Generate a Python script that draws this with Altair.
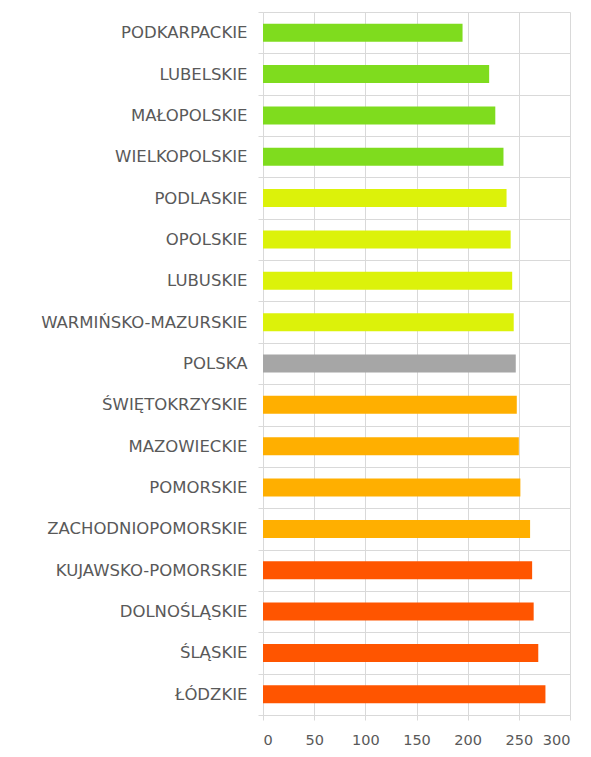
import altair as alt
import pandas as pd

regions = [
    "PODKARPACKIE", "LUBELSKIE", "MAŁOPOLSKIE", "WIELKOPOLSKIE",
    "PODLASKIE", "OPOLSKIE", "LUBUSKIE", "WARMIŃSKO-MAZURSKIE",
    "POLSKA",
    "ŚWIĘTOKRZYSKIE", "MAZOWIECKIE", "POMORSKIE", "ZACHODNIOPOMORSKIE",
    "KUJAWSKO-POMORSKIE", "DOLNOŚLĄSKIE", "ŚLĄSKIE", "ŁÓDZKIE",
]
values = [195, 221, 227, 235, 238, 242, 243.5, 245, 247, 248, 250, 251.5, 261, 263, 264.5, 269, 276]
groups = ["g1"] * 4 + ["g2"] * 4 + ["pl"] + ["g3"] * 4 + ["g4"] * 4

group_domain = ["g1", "g2", "pl", "g3", "g4"]
group_colors = ["#7FDC1E", "#DCF20A", "#A6A6A6", "#FFAF00", "#FF5500"]

df = pd.DataFrame({"region": regions, "value": values, "group": groups})

font = "DejaVu Sans"
label_color = "#595959"
grid_color = "#D9D9D9"

chart = alt.Chart(df).mark_bar(size=18).encode(
    y=alt.Y(
        "region:N",
        sort=regions,
        title=None,
        scale=alt.Scale(paddingInner=0, paddingOuter=0),
        axis=alt.Axis(
            tickBand="extent",
            grid=True,
            gridColor=grid_color,
            domainColor=grid_color,
            tickColor=grid_color,
            tickSize=5,
            labelPadding=11,
            labelLimit=300,
            labelFont=font,
            labelFontSize=16.5,
            labelColor=label_color,
        ),
    ),
    x=alt.X(
        "value:Q",
        title=None,
        scale=alt.Scale(domain=[0, 300], nice=False),
        axis=alt.Axis(
            values=[0, 50, 100, 150, 200, 250, 300],
            grid=True,
            gridColor=grid_color,
            domainColor=grid_color,
            tickColor=grid_color,
            tickSize=5,
            labelPadding=13,
            labelFont=font,
            labelFontSize=14.5,
            labelColor=label_color,
        ),
    ),
    color=alt.Color(
        "group:N",
        scale=alt.Scale(domain=group_domain, range=group_colors),
        legend=None,
    ),
).properties(
    width=307,
    height=703,
    autosize=alt.AutoSizeParams(type="none"),
    padding={"left": 255, "top": 4, "right": 13, "bottom": 33},
).configure_view(stroke=None)

chart.save("out.html", embed_options={"renderer": "svg", "actions": False})
